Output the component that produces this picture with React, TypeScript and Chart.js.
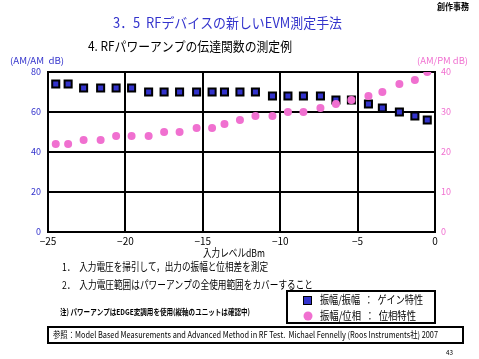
import React, { useEffect, useRef } from "react";
import { Chart, registerables } from "chart.js";

Chart.register(...registerables);

const inputLevels = [-24.5, -23.7, -22.7, -21.6, -20.6, -19.6, -18.5, -17.5, -16.5, -15.4, -14.4, -13.6, -12.6, -11.6, -10.5, -9.5, -8.5, -7.4, -6.4, -5.4, -4.3, -3.4, -2.3, -1.3, -0.5];
const amamValues = [74, 74, 72, 72, 72, 72, 70, 70, 70, 70, 70, 70, 70, 70, 68, 68, 68, 68, 66, 66, 64, 62, 60, 58, 56];
const ampmValues = [22, 22, 23, 23, 24, 24, 24, 25, 25, 26, 26, 27, 28, 29, 29, 30, 30, 31, 32, 33, 34, 35, 37, 38, 40];

const xTicks = [-25, -20, -15, -10, -5, 0];
const leftTicks = [0, 20, 40, 60, 80];
const rightTicks = [0, 10, 20, 30, 40];

const BLUE = "#3333CC";
const PINK = "#F070D0";
const FONT = "'Noto Sans CJK JP', sans-serif";

type TextItem = { t: string; x: number; w: number; y: number; s: number; c: string; b?: boolean };

const texts: TextItem[] = [
  { t: "創作事務", x: 437, w: 32, y: 7, s: 9, c: "#000", b: true },
  { t: "3．5  RFデバイスの新しいEVM測定手法", x: 113, w: 229, y: 23, s: 14, c: BLUE },
  { t: "4. RFパワーアンプの伝達関数の測定例", x: 88, w: 204, y: 46, s: 13, c: "#000" },
  { t: "(AM/AM  dB)", x: 10, w: 54, y: 61, s: 9, c: BLUE },
  { t: "(AM/PM dB)", x: 417, w: 51, y: 61, s: 9, c: PINK },
  { t: "入力レベルdBm", x: 203, w: 62, y: 253, s: 11, c: "#000" },
  { t: "1．  入力電圧を掃引して，出力の振幅と位相差を測定", x: 62, w: 206, y: 267, s: 11, c: "#000" },
  { t: "2．  入力電圧範囲はパワーアンプの全使用範囲をカバーすること", x: 62, w: 251, y: 285, s: 11, c: "#000" },
  { t: "注) パワーアンプはEDGE変調用を使用(縦軸のユニットは確認中)", x: 60, w: 190, y: 312, s: 8, c: "#000", b: true },
  { t: "振幅/振幅  ：  ゲイン特性", x: 320, w: 103, y: 300, s: 11, c: "#000" },
  { t: "振幅/位相  ：  位相特性", x: 320, w: 96, y: 316, s: 11, c: "#000" },
  { t: "参照：Model Based Measurements and Advanced Method in RF Test.  Michael Fennelly (Roos Instruments社) 2007", x: 53, w: 385, y: 335, s: 9, c: "#000" },
  { t: "43", x: 446, w: 7, y: 352, s: 7, c: "#000" },
];

const decorPlugin = {
  id: "decor",
  afterDraw(chart: any) {
    const ctx = chart.ctx as CanvasRenderingContext2D;
    ctx.save();
    ctx.textBaseline = "middle";
    ctx.textAlign = "left";
    for (const it of texts) {
      ctx.font = `${it.b ? "bold " : ""}${it.s}px ${FONT}`;
      ctx.fillStyle = it.c;
      const m = ctx.measureText(it.t).width;
      ctx.save();
      ctx.translate(it.x, it.y);
      ctx.scale(it.w / m, 1);
      ctx.fillText(it.t, 0, 0);
      ctx.restore();
    }
    // legend box
    ctx.strokeStyle = "#000";
    ctx.lineWidth = 2;
    ctx.strokeRect(287, 291, 148, 32);
    ctx.fillStyle = BLUE;
    ctx.fillRect(303, 296, 9, 9);
    ctx.strokeStyle = "#000";
    ctx.lineWidth = 1;
    ctx.strokeRect(303.5, 296.5, 8, 8);
    ctx.fillStyle = PINK;
    ctx.beginPath();
    ctx.arc(308, 316, 4.5, 0, Math.PI * 2);
    ctx.fill();
    // reference box
    ctx.strokeStyle = "#000";
    ctx.lineWidth = 2;
    ctx.strokeRect(48, 327, 415, 16);
    ctx.restore();
  },
};

export default function App() {
  const ref = useRef<HTMLCanvasElement>(null);
  useEffect(() => {
    const canvas = ref.current;
    if (!canvas) return;
    const chart = new Chart(canvas, {
      type: "scatter",
      data: {
        datasets: [
          {
            label: "振幅/位相",
            data: inputLevels.map((x, i) => ({ x, y: ampmValues[i] })),
            yAxisID: "y2",
            pointStyle: "circle",
            pointRadius: 4,
            pointBackgroundColor: PINK,
            pointBorderWidth: 0,
            backgroundColor: PINK,
            borderColor: PINK,
            showLine: false,
          },
          {
            label: "振幅/振幅",
            data: inputLevels.map((x, i) => ({ x, y: amamValues[i] })),
            yAxisID: "y",
            pointStyle: "rect",
            pointRadius: 5,
            pointBackgroundColor: BLUE,
            pointBorderColor: "#000",
            pointBorderWidth: 2,
            backgroundColor: BLUE,
            borderColor: "#000",
            showLine: false,
          },
        ],
      },
      options: {
        animation: false,
        responsive: false,
        devicePixelRatio: 1,
        layout: { padding: { left: 0, right: 0, top: 72, bottom: 0 } },
        plugins: { legend: { display: false }, tooltip: { enabled: false }, title: { display: false } },
        scales: {
          x: {
            type: "linear",
            min: -25,
            max: 0,
            afterBuildTicks: (s: any) => { s.ticks = xTicks.map((v) => ({ value: v })); },
            afterFit: (s: any) => { s.height = 127; },
            grid: { color: "#000", lineWidth: 2, drawTicks: false },
            border: { display: true, color: "#000", width: 2 },
            ticks: {
              padding: 3,
              color: "#000",
              font: { family: FONT, size: 10 },
              callback: (v: any) => (Number(v) < 0 ? "−" + Math.abs(Number(v)) : String(v)),
            },
          },
          y: {
            type: "linear",
            position: "left",
            min: 0,
            max: 80,
            afterBuildTicks: (s: any) => { s.ticks = leftTicks.map((v) => ({ value: v })); },
            afterFit: (s: any) => { s.width = 48; },
            grid: { color: "#000", lineWidth: 2, drawTicks: false },
            border: { display: true, color: "#000", width: 2 },
            ticks: { padding: 7, color: BLUE, font: { family: FONT, size: 9 } },
          },
          y2: {
            type: "linear",
            position: "right",
            min: 0,
            max: 40,
            afterBuildTicks: (s: any) => { s.ticks = rightTicks.map((v) => ({ value: v })); },
            afterFit: (s: any) => { s.width = 44; },
            grid: { display: false, drawTicks: false },
            border: { display: true, color: "#000", width: 2 },
            ticks: { padding: 6, color: PINK, font: { family: FONT, size: 9 } },
          },
        },
      },
      plugins: [decorPlugin],
    } as any);
    return () => chart.destroy();
  }, []);
  return (
    <div style={{ position: "fixed", left: 0, top: 0, width: 479, height: 359, background: "#fff" }}>
      <canvas ref={ref} width={479} height={359} style={{ display: "block" }} />
    </div>
  );
}
